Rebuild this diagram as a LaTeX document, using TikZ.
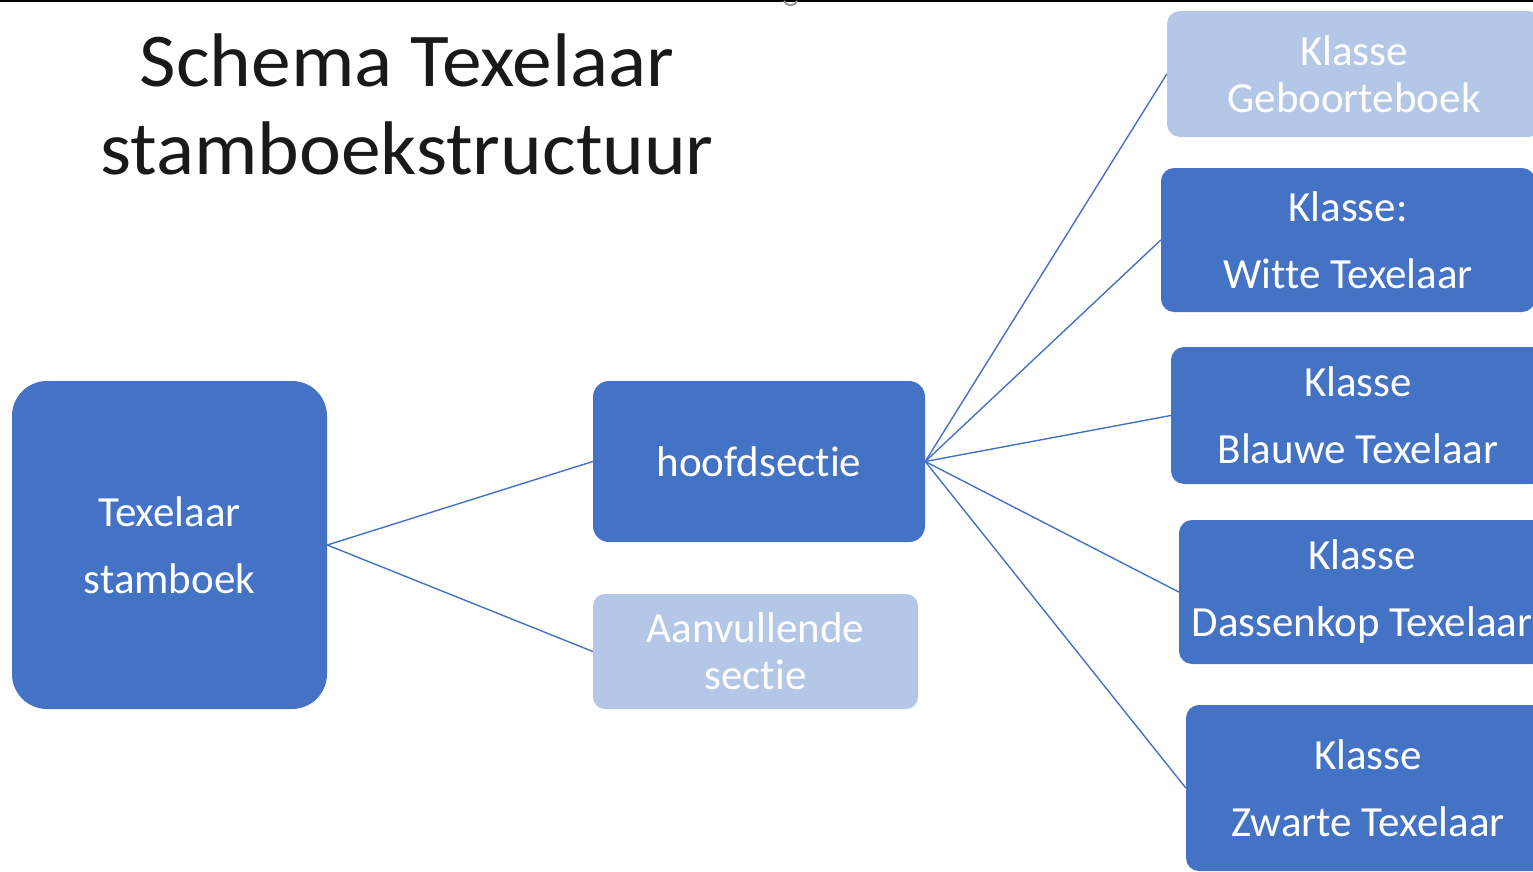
\documentclass[tikz,border=0pt]{standalone}
\usepackage{fontspec}
\setmainfont{Carlito}[RawFeature={-liga;-clig}]
\newfontfamily\titlefont{Carlito}[RawFeature={-liga;-clig}, FakeStretch=1.045]
\definecolor{dblue}{HTML}{4472C4}
\definecolor{lblue}{HTML}{B4C7E7}
\tikzset{
  box/.style={fill=dblue, text=white, align=center, inner sep=0pt,
    font=\fontsize{43}{67}\selectfont},
  lbox/.style={fill=lblue, text=white, align=center, inner sep=0pt,
    font=\fontsize{43}{47}\selectfont},
  conn/.style={draw=dblue, line width=1.4pt},
  ttl/.style={anchor=base, inner sep=0pt, text=black!90, font=\titlefont\fontsize{76}{87}\selectfont}
}
\begin{document}
\begin{tikzpicture}[x=1pt,y=-1pt]
\useasboundingbox (0,0) rectangle (1533,872);
\clip (0,0) rectangle (1533,872);
\fill[white] (0,0) rectangle (1533,872);
% top rule and cut-off glyph
\draw[black, line width=2.5pt] (0,1) -- (1533,1);
\draw[gray!80, line width=2pt] (784,1) .. controls (785,6.5) and (796,6.5) .. (797,1);
% title
\node[ttl] (t1) at (407,87) {Schema Texelaar};
\node[ttl] (t2) at (407,174) {stamboekstructuur};
% boxes
\node[box, rounded corners=35pt, minimum width=315pt, minimum height=328pt] (stam) at (169.5,545) {Texelaar\\stamboek};
\node[box, rounded corners=16pt, minimum width=332pt, minimum height=161pt] (hoofd) at (759,461.5) {hoofdsectie};
\node[lbox, rounded corners=12pt, minimum width=325pt, minimum height=115pt] (aanv) at (755.5,651.5) {Aanvullende\\sectie};
\node[lbox, rounded corners=13pt, minimum width=374pt, minimum height=126pt] (geb) at (1354,74) {Klasse\\Geboorteboek};
\node[box, rounded corners=13pt, minimum width=374pt, minimum height=144pt] (witte) at (1348,240) {Klasse:\\Witte Texelaar};
\node[box, rounded corners=13pt, minimum width=374pt, minimum height=137pt] (blauw) at (1358,415.5) {Klasse\\Blauwe Texelaar};
\node[box, rounded corners=13pt, minimum width=366pt, minimum height=144pt] (dassen) at (1362,592) {Klasse\\Dassenkop Texelaar};
\node[box, rounded corners=13pt, minimum width=364pt, minimum height=166pt] (zwart) at (1368,788) {Klasse\\Zwarte Texelaar};
% connectors
\draw[conn] (stam.east) -- (hoofd.west);
\draw[conn] (stam.east) -- (aanv.west);
\draw[conn] (hoofd.east) -- (geb.west);
\draw[conn] (hoofd.east) -- (witte.west);
\draw[conn] (hoofd.east) -- (blauw.west);
\draw[conn] (hoofd.east) -- (dassen.west);
\draw[conn] (hoofd.east) -- (zwart.west);
\end{tikzpicture}
\end{document}
